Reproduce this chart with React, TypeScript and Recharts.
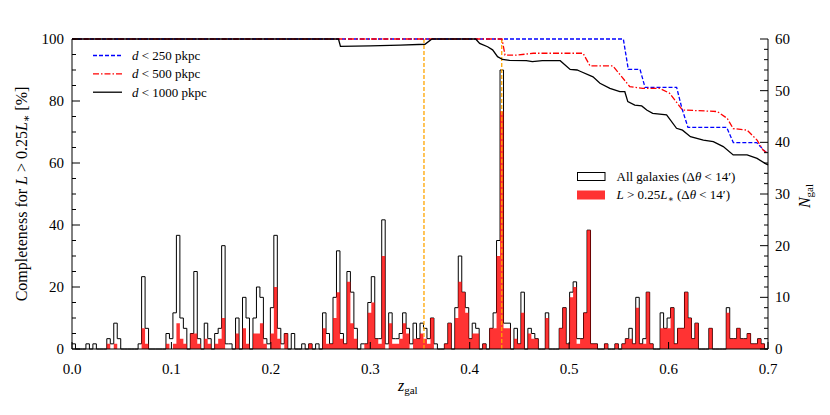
import React from "react";
import { ComposedChart, Area, Line, XAxis, YAxis, ReferenceLine } from "recharts";

// histogram bins of width 0.0035 in z, 200 bins from 0 to 0.7
const BIN_WIDTH = 0.0035;

// all galaxies within 14 arcmin (N_gal per bin)
const allGalaxies = [
  1, 0, 0, 0, 1, 0, 1, 0, 0, 0, 2, 1, 5, 2, 0, 0, 0, 0, 0, 1,
  14, 4, 0, 0, 0, 0, 0, 3, 2, 7, 22, 6, 4, 0, 3, 15, 2, 0, 5, 2,
  0, 3, 4, 20, 1, 1, 0, 6, 0, 10, 6, 0, 6, 12, 10, 2, 1, 8, 22, 4,
  1, 3, 0, 3, 0, 0, 1, 0, 1, 0, 1, 0, 7, 3, 1, 10, 19, 3, 1, 15,
  11, 4, 0, 1, 1, 9, 14, 2, 2, 25, 1, 7, 2, 2, 3, 7, 4, 1, 5, 2,
  5, 4, 2, 6, 1, 0, 0, 1, 5, 0, 8, 18, 11, 8, 2, 5, 4, 0, 1, 0,
  4, 7, 21, 54, 5, 5, 0, 4, 1, 11, 0, 4, 3, 2, 0, 0, 7, 0, 0, 0,
  4, 8, 1, 11, 13, 2, 2, 7, 23, 1, 1, 0, 0, 1, 0, 0, 1, 0, 1, 2,
  4, 1, 10, 1, 2, 11, 1, 0, 0, 7, 4, 6, 8, 1, 4, 4, 11, 6, 2, 5,
  0, 0, 0, 4, 0, 0, 0, 0, 8, 2, 2, 4, 2, 2, 3, 1, 1, 2, 1, 0,
];

// galaxies brighter than 0.25 L*
const brightGalaxies = [
  0, 0, 0, 0, 0, 0, 0, 0, 0, 0, 1, 0, 1, 0, 0, 0, 0, 0, 0, 0,
  4, 1, 0, 0, 0, 0, 0, 1, 0, 1, 5, 2, 1, 0, 3, 3, 1, 0, 2, 1,
  0, 1, 2, 6, 0, 0, 0, 3, 0, 4, 1, 0, 3, 3, 5, 1, 0, 3, 12, 2,
  0, 3, 0, 0, 0, 0, 0, 0, 1, 0, 0, 0, 4, 1, 1, 6, 11, 2, 1, 13,
  5, 2, 0, 0, 1, 7, 9, 2, 1, 18, 0, 5, 1, 1, 2, 5, 3, 0, 2, 2,
  3, 2, 1, 6, 0, 0, 0, 1, 5, 0, 6, 13, 11, 7, 2, 3, 3, 0, 1, 0,
  4, 4, 18, 46, 4, 4, 0, 2, 1, 7, 0, 3, 2, 2, 0, 0, 6, 0, 0, 0,
  4, 8, 1, 10, 12, 1, 2, 7, 23, 1, 1, 0, 0, 1, 0, 0, 1, 0, 1, 2,
  2, 1, 8, 1, 1, 11, 1, 0, 0, 4, 4, 4, 8, 1, 4, 4, 11, 6, 2, 5,
  0, 0, 0, 4, 0, 0, 0, 0, 7, 2, 2, 4, 2, 2, 3, 1, 1, 2, 1, 0,
];

// completeness curves [z, %]
const d250: [number, number][] = [
  [0, 100], [0.5545, 100], [0.5595, 90.2], [0.5713, 90.2], [0.5763, 84.4], [0.6081, 84.4],
  [0.6135, 77.5], [0.6195, 71.5], [0.6584, 71.5], [0.6651, 66.6], [0.6886, 66.6], [0.697, 63.7], [0.7, 63.3],
];
const d500: [number, number][] = [
  [0, 100], [0.4325, 100], [0.4355, 94.8], [0.447, 94.8], [0.464, 95.4], [0.514, 95.4], [0.521, 91.3],
  [0.544, 91.3], [0.553, 87.8], [0.561, 84.6], [0.574, 84.1], [0.591, 84.1], [0.601, 82.5], [0.614, 77.1],
  [0.649, 76.6], [0.659, 74.4], [0.665, 71.1], [0.679, 70.6], [0.689, 67.4], [0.695, 64.2], [0.7, 63.0],
];
const d1000: [number, number][] = [
  [0, 100], [0.268, 100], [0.27, 97.6], [0.3, 97.8], [0.33, 98.0], [0.355, 98.3], [0.362, 100], [0.406, 100],
  [0.41, 98.6], [0.418, 97.5], [0.423, 96.5], [0.428, 94.3], [0.433, 93.4], [0.44, 93.1], [0.457, 93.0],
  [0.463, 92.7], [0.473, 93.0], [0.491, 93.0], [0.501, 90.2], [0.508, 90.0], [0.511, 89.6], [0.524, 87.8],
  [0.531, 85.7], [0.541, 84.1], [0.551, 83.0], [0.556, 83.0], [0.559, 79.8], [0.566, 78.7], [0.573, 78.4],
  [0.578, 77.1], [0.584, 76.0], [0.598, 75.5], [0.608, 71.2], [0.614, 70.6], [0.622, 68.5], [0.635, 67.4],
  [0.645, 66.9], [0.655, 65.3], [0.665, 62.6], [0.679, 62.6], [0.689, 61.5], [0.697, 59.9], [0.7, 59.4],
];

// vertical markers
const markerZ = [0.354, 0.4322];

const xTicks = [0, 0.1, 0.2, 0.3, 0.4, 0.5, 0.6, 0.7];
const topTicks = [0.1, 0.2, 0.3, 0.4, 0.5, 0.6];
const leftTicks = [0, 5, 10, 15, 20, 25, 30, 35, 40, 45, 50, 55, 60, 65, 70, 75, 80, 85, 90, 95, 100];
const rightTicks = [0, 2, 4, 6, 8, 10, 12, 14, 16, 18, 20, 22, 24, 26, 28, 30, 32, 34, 36, 38, 40, 42, 44, 46, 48, 50, 52, 54, 56, 58, 60];

const histRows = allGalaxies.map((n, i) => ({ z: +(i * BIN_WIDTH).toFixed(4), all: n, bright: brightGalaxies[i] }));
histRows.push({ z: 0.7, all: allGalaxies[allGalaxies.length - 1], bright: brightGalaxies[brightGalaxies.length - 1] });

const toRows = (pts: [number, number][]) => pts.map(([z, c]) => ({ z, c }));

const FONT = "'Liberation Serif', 'DejaVu Serif', serif";
const PL = 72, PR = 768, PT = 39, PB = 349;

function BottomTick(props: any) {
  const { x, payload } = props;
  return (
    <g>
      <line x1={x} x2={x} y1={PB} y2={PB - 7} stroke="#000" />
      <text x={x} y={PB + 25} textAnchor="middle" fontFamily={FONT} fontSize={15} fill="#000">
        {payload.value.toFixed(1)}
      </text>
    </g>
  );
}

function TopTick(props: any) {
  const { x } = props;
  return <line x1={x} x2={x} y1={PT} y2={PT - 8} stroke="#000" />;
}

function LeftTick(props: any) {
  const { y, payload } = props;
  const major = payload.value % 20 === 0;
  return (
    <g>
      <line x1={PL} x2={PL + (major ? 8 : 4)} y1={y} y2={y} stroke="#000" />
      {major && (
        <text x={PL - 8} y={y + 5} textAnchor="end" fontFamily={FONT} fontSize={15} fill="#000">
          {payload.value}
        </text>
      )}
    </g>
  );
}

function RightTick(props: any) {
  const { y, payload } = props;
  const major = payload.value % 10 === 0;
  return (
    <g>
      <line x1={PR} x2={PR - (major ? 8 : 4)} y1={y} y2={y} stroke="#000" />
      {major && (
        <text x={PR + 7} y={y + 5} textAnchor="start" fontFamily={FONT} fontSize={15} fill="#000">
          {payload.value}
        </text>
      )}
    </g>
  );
}

export default function App() {
  return (
    <div style={{ position: "absolute", left: 0, top: 0, width: 830, height: 415, background: "#fff" }}>
      <ComposedChart width={830} height={415} data={histRows} margin={{ top: 39, right: 22, bottom: 36, left: 32 }}>
        <XAxis
          dataKey="z"
          type="number"
          domain={[0, 0.7]}
          ticks={xTicks}
          interval={0}
          tick={<BottomTick />}
          tickLine={false}
          axisLine={{ stroke: "#000" }}
          height={30}
        />
        <XAxis
          xAxisId="top"
          orientation="top"
          dataKey="z"
          type="number"
          domain={[0, 0.7]}
          ticks={topTicks}
          interval={0}
          tick={<TopTick />}
          tickLine={false}
          axisLine={{ stroke: "#000" }}
          height={0}
        />
        <YAxis
          yAxisId="l"
          type="number"
          domain={[0, 100]}
          ticks={leftTicks}
          interval={0}
          tick={<LeftTick />}
          tickLine={false}
          axisLine={{ stroke: "#000" }}
          width={40}
        />
        <YAxis
          yAxisId="r"
          orientation="right"
          type="number"
          domain={[0, 60]}
          ticks={rightTicks}
          interval={0}
          tick={<RightTick />}
          tickLine={false}
          axisLine={{ stroke: "#000" }}
          width={40}
        />
        <Area
          yAxisId="r"
          type="stepAfter"
          dataKey="all"
          stroke="#000"
          strokeWidth={1}
          fill="none"
          dot={false}
          activeDot={false}
          isAnimationActive={false}
        />
        <Area
          yAxisId="r"
          type="stepAfter"
          dataKey="bright"
          stroke="none"
          fill="#ff0000"
          fillOpacity={0.8}
          dot={false}
          activeDot={false}
          isAnimationActive={false}
        />
        {markerZ.map((z) => (
          <ReferenceLine key={z} yAxisId="l" x={z} stroke="#ffa500" strokeWidth={1.3} strokeDasharray="4 2" />
        ))}
        <Line
          yAxisId="l"
          data={toRows(d250)}
          dataKey="c"
          type="linear"
          stroke="#0000ff"
          strokeWidth={1.3}
          strokeDasharray="4 2"
          dot={false}
          activeDot={false}
          isAnimationActive={false}
        />
        <Line
          yAxisId="l"
          data={toRows(d500)}
          dataKey="c"
          type="linear"
          stroke="#ff0000"
          strokeWidth={1.3}
          strokeDasharray="6 2 1.5 2"
          dot={false}
          activeDot={false}
          isAnimationActive={false}
        />
        <Line
          yAxisId="l"
          data={toRows(d1000)}
          dataKey="c"
          type="linear"
          stroke="#000"
          strokeWidth={1.3}
          dot={false}
          activeDot={false}
          isAnimationActive={false}
        />
      </ComposedChart>

      <svg
        width={830}
        height={415}
        style={{ position: "absolute", left: 0, top: 0, pointerEvents: "none" }}
        fontFamily={FONT}
      >
        {/* completeness legend */}
        <line x1={93} x2={122} y1={55.5} y2={55.5} stroke="#0000ff" strokeWidth={1.3} strokeDasharray="4 2" />
        <line x1={93} x2={122} y1={73.8} y2={73.8} stroke="#ff0000" strokeWidth={1.3} strokeDasharray="6 2 1.5 2" />
        <line x1={93} x2={122} y1={92.2} y2={92.2} stroke="#000" strokeWidth={1.3} />
        <text x={132} y={60} fontSize={13}>
          <tspan fontStyle="italic">d</tspan> &lt; 250 pkpc
        </text>
        <text x={132} y={78.3} fontSize={13}>
          <tspan fontStyle="italic">d</tspan> &lt; 500 pkpc
        </text>
        <text x={132} y={96.7} fontSize={13}>
          <tspan fontStyle="italic">d</tspan> &lt; 1000 pkpc
        </text>

        {/* histogram legend */}
        <rect x={577.5} y={172.5} width={27.5} height={8} fill="#fff" stroke="#000" strokeWidth={1} />
        <rect x={577} y={190.5} width={28} height={9} fill="#ff3333" />
        <text x={616.5} y={180.5} fontSize={13}>
          All galaxies (Δ<tspan fontStyle="italic">θ</tspan> &lt; 14′)
        </text>
        <text x={616.5} y={199} fontSize={13}>
          <tspan fontStyle="italic">L</tspan> &gt; 0.25<tspan fontStyle="italic">L</tspan>
          <tspan fontSize={9} dy={3}>∗</tspan>
          <tspan dy={-3}> (Δ</tspan>
          <tspan fontStyle="italic">θ</tspan> &lt; 14′)
        </text>

        {/* axis titles */}
        <text x={398} y={391} fontSize={16}>
          <tspan fontStyle="italic">z</tspan>
          <tspan fontSize={11} dy={3}>gal</tspan>
        </text>
        <text x={27} y={194} fontSize={16} textAnchor="middle" transform="rotate(-90 27 194)">
          Completeness for <tspan fontStyle="italic">L</tspan> &gt; 0.25<tspan fontStyle="italic">L</tspan>
          <tspan fontSize={11} dy={3}>∗</tspan>
          <tspan dy={-3}> [%]</tspan>
        </text>
        <text x={810} y={196} fontSize={16} textAnchor="middle" transform="rotate(-90 810 196)">
          <tspan fontStyle="italic">N</tspan>
          <tspan fontSize={11} dy={3}>gal</tspan>
        </text>
      </svg>
    </div>
  );
}
